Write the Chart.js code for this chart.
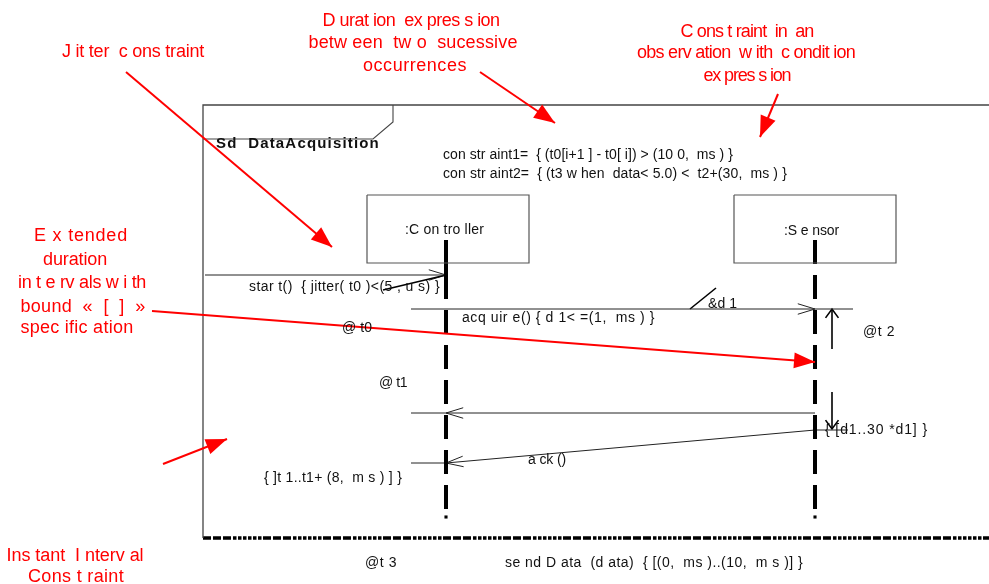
<!DOCTYPE html>
<html><head><meta charset="utf-8">
<script src="https://cdn.jsdelivr.net/npm/chart.js@4/dist/chart.umd.min.js"></script>
<style>html,body{margin:0;padding:0;background:#fff;overflow:hidden}canvas{display:block}</style>
</head><body>
<canvas id="c" width="989" height="584"></canvas>
<script>
// ---------------- diagram data (in diagram units) ----------------
const lifelineNames = [':C on tro ller', ':S e nsor'];
const lifelineX = [446, 815];
const headBoxes = [[367,195,529,263],[734,195,896,263]];
const lifelineRange = [240, 509];
const lifelineDot = 517;
const activationBars = [[446,240,297]];

const frameEdge = [[203,538],[203,105],[989,105]];
const frameTab = [[203,139],[373,139],[393,122],[393,105]];
const frameFloor = [[203,538],[989,538]];

const messageLines = [
  [[205,275],[446,275]],   // start()
  [[411,309],[853,309]],   // acquire()
  [[411,413],[815,413]],   // reply
  [[815,430],[446,463]],   // ack()
  [[411,463],[446,463]],
  [[815,430],[848,430]]
];
const markerLines = [
  [[383,290],[446,275]],   // jitter stroke
  [[690,309],[716,288]]    // &d1 tick
];
const messageHeads = [
  [[446,275],[205,275]],
  [[815,309],[411,309]],
  [[446,413],[815,413]],
  [[446,463],[815,430]]
];
const durationShafts = [
  [[832,349],[832,309]],
  [[832,392],[832,429]]
];

const noteArrows = [
  [[126,72],[332,247]],
  [[480,72],[555,123]],
  [[778,94],[760,137]],
  [[152,311],[815,362]],
  [[163,464],[227,439]]
];

// text: [string, left x, centre y, width]
const titleText = ['Sd  DataAcquisition', 216, 144, 164];
const diagramTexts = [
  ['con str aint1=  { (t0[i+1 ] - t0[ i]) > (10 0,  ms ) }', 443, 155, 290],
  ['con str aint2=  { (t3 w hen  data< 5.0) <  t2+(30,  ms ) }', 443, 174, 344],
  [lifelineNames[0], 405, 230, 79],
  [lifelineNames[1], 784, 231, 55],
  ['star t()  { jitter( t0 )<(5 , u s) }', 249, 287, 191],
  ['acq uir e() { d 1< =(1,  ms ) }', 462, 318, 193],
  ['&d 1', 708, 304, 29],
  ['@ t0', 342, 328, 30],
  ['@ t1', 379, 383, 28],
  ['@t 2', 863, 332, 32],
  ['{ [d1..30 *d1] }', 825, 430, 103],
  ['a ck ()', 528, 460, 38],
  ['{ ]t 1..t1+ (8,  m s ) ] }', 264, 478, 138],
  ['@t 3', 365, 563, 32],
  ['se nd D ata  (d ata)  { [(0,  ms )..(10,  m s )] }', 505, 563, 298]
];
// notes: [string, centre x, centre y, width]
const noteTexts = [
  ['J it ter  c ons traint', 133, 52, 142],
  ['D urat ion  ex pres s ion', 411, 21, 177],
  ['betw een  tw o  sucessive', 413, 43, 209],
  ['occurrences', 415, 66, 104],
  ['C ons t raint  in  an', 747, 32, 133],
  ['obs erv ation  w ith  c ondit ion', 746, 53, 218],
  ['ex pres s ion', 747, 76, 87],
  ['E x tended', 81, 236, 94],
  ['duration', 75, 260, 64],
  ['in t e rv als w i th', 82, 283, 128],
  ['bound  «  [  ]  »', 83, 307, 125],
  ['spec ific ation', 77, 328, 113],
  ['Ins tant  I nterv al', 75, 556, 137],
  ['Cons t raint', 76, 577, 96]
];

// ---------------- build datasets ----------------
const pt = p => ({x:p[0], y:p[1]});
const datasets = [];
function line(points, opts){
  datasets.push(Object.assign({
    data: points.map(pt), showLine:true, fill:false, pointRadius:0, pointHoverRadius:0,
    borderColor:'#000', borderWidth:1, tension:0, borderCapStyle:'butt', borderJoinStyle:'miter', clip:false
  }, opts||{}));
}
function barbs(tip, back, len, angDeg){
  const a = Math.atan2(tip[1]-back[1], tip[0]-back[0]);
  const d = angDeg*Math.PI/180;
  return [
    [tip[0]-len*Math.cos(a-d), tip[1]-len*Math.sin(a-d)],
    tip,
    [tip[0]-len*Math.cos(a+d), tip[1]-len*Math.sin(a+d)]
  ];
}

noteArrows.forEach(([a,b]) => line([a,b], {borderColor:'#ff0000', borderWidth:2}));

line(frameEdge, {borderColor:'#444', borderWidth:1.3});
line(frameTab, {borderColor:'#444', borderWidth:1.1});
line(frameFloor, {borderColor:'#000', borderWidth:3.5,
  borderDash:[8,2,8,2,8,2,3.5,1.5,3.5,1.5,3.5,1.5,3.5,1.5,3.5,1.5,3.5,1.5]});

headBoxes.forEach(b => line([[b[0],b[1]],[b[2],b[1]],[b[2],b[3]],[b[0],b[3]],[b[0],b[1]]],
  {borderColor:'#555', borderWidth:1.2}));

lifelineX.forEach(x => {
  line([[x,lifelineRange[0]],[x,lifelineRange[1]]], {borderWidth:4, borderDash:[24,11]});
  datasets.push({data:[pt([x,lifelineDot])], showLine:false, pointStyle:'rect',
    pointRadius:2.2, backgroundColor:'#000', borderWidth:0, clip:false});
});
activationBars.forEach(([x,y0,y1]) => line([[x,y0],[x,y1]], {borderWidth:4}));

messageLines.forEach(s => line(s, {borderColor:'#222', borderWidth:1}));
markerLines.forEach(s => line(s, {borderColor:'#000', borderWidth:1.6}));
messageHeads.forEach(([tip,back]) => line(barbs(tip,back,18,17), {borderColor:'#222', borderWidth:1}));
durationShafts.forEach(([a,b]) => {
  line([a,b], {borderWidth:1.6});
  line(barbs(b,a,11,36), {borderWidth:1.6});
});

// ---------------- overlay: filled heads + texts ----------------
const overlay = {
  id:'overlay',
  afterDatasetsDraw(chart){
    const ctx = chart.ctx, sx = chart.scales.x, sy = chart.scales.y;
    const X = v => sx.getPixelForValue(v), Y = v => sy.getPixelForValue(v);
    ctx.save();
    ctx.fillStyle = '#ff0000';
    noteArrows.forEach(([a,b]) => {
      const x0=X(a[0]), y0=Y(a[1]), x1=X(b[0]), y1=Y(b[1]);
      const ang = Math.atan2(y1-y0, x1-x0), L=21, W=8;
      const bx = x1-L*Math.cos(ang), by = y1-L*Math.sin(ang);
      ctx.beginPath();
      ctx.moveTo(x1,y1);
      ctx.lineTo(bx+W*Math.sin(ang), by-W*Math.cos(ang));
      ctx.lineTo(bx-W*Math.sin(ang), by+W*Math.cos(ang));
      ctx.closePath(); ctx.fill();
    });
    function fitText(t, x, y, w, font, color){
      ctx.font = font;
      if ('letterSpacing' in ctx) ctx.letterSpacing = '0px';
      const m = ctx.measureText(t).width;
      if ('letterSpacing' in ctx) {
        let ls = (w - m) / t.length;
        ls = Math.max(-1.2, Math.min(3, ls));
        ctx.letterSpacing = ls.toFixed(2) + 'px';
      }
      ctx.fillStyle = color;
      ctx.textAlign = 'left';
      ctx.textBaseline = 'middle';
      ctx.fillText(t, x, y);
    }
    fitText(titleText[0], X(titleText[1]), Y(titleText[2]), titleText[3],
      'bold 15px "Liberation Sans", Arial, sans-serif', '#111');
    diagramTexts.forEach(([t,x,y,w]) => fitText(t, X(x), Y(y), w,
      '14px "Liberation Sans", Arial, sans-serif', '#111'));
    noteTexts.forEach(([t,cx,y,w]) => fitText(t, X(cx - w/2), Y(y), w,
      '18px "Liberation Sans", Arial, sans-serif', '#ff0000'));
    ctx.restore();
  }
};

new Chart(document.getElementById('c'), {
  type:'scatter',
  data:{datasets},
  options:{
    responsive:false, animation:false, events:[],
    layout:{padding:0, autoPadding:false},
    plugins:{legend:{display:false}, tooltip:{enabled:false}},
    scales:{
      x:{type:'linear', min:0, max:989, display:false},
      y:{type:'linear', min:0, max:584, reverse:true, display:false}
    }
  },
  plugins:[overlay]
});
</script>
</body></html>
